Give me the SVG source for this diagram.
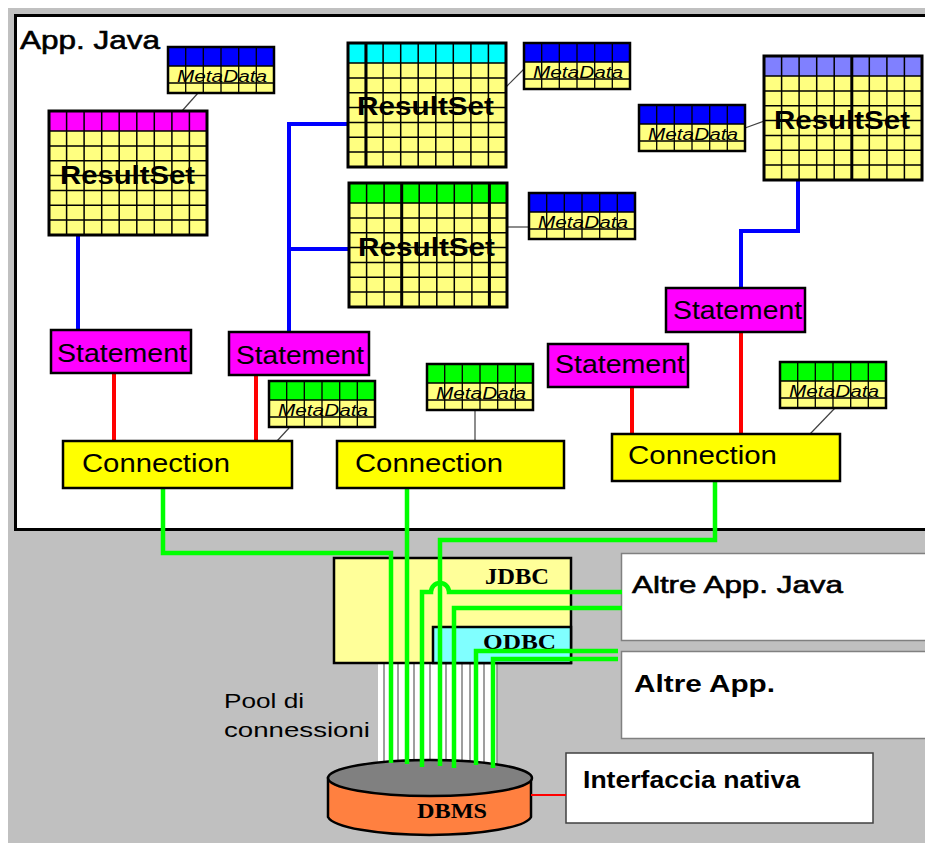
<svg xmlns="http://www.w3.org/2000/svg" xmlns:xlink="http://www.w3.org/1999/xlink" width="925" height="843" viewBox="0 0 925 843">
<style>
text{font-family:"Liberation Sans",Arial,sans-serif;fill:#000}
.rs{font-size:25px;font-weight:bold}
.st{font-size:25px}
.cn{font-size:26px}
.med{stroke:#000;stroke-width:0.6}
.ser{font-family:"Liberation Serif","Times New Roman",serif;font-weight:bold}
.stmt{fill:#ff00ff;stroke:#000;stroke-width:2.5}
.conn{fill:#ffff00;stroke:#000;stroke-width:2.5}
.blue{stroke:#0000ff;stroke-width:4;fill:none}
.red{stroke:#ff0000;stroke-width:4;fill:none}
.green{stroke:#00ff00;stroke-width:4.5;fill:none}
.thin{stroke:#404040;stroke-width:1.2;fill:none}
.thick{stroke:#000;stroke-width:3;fill:none}
</style>
<defs>
<g id="rsg">
<rect width="158" height="124" fill="#ffff80"/>
<rect width="158" height="20"/>
<path d="M17.6,0V124M35.1,0V124M52.7,0V124M70.2,0V124M87.8,0V124M105.3,0V124M122.9,0V124M140.4,0V124M0,20H158M0,34.9H158M0,49.7H158M0,64.6H158M0,79.4H158M0,94.3H158M0,109.1H158" stroke="#000" stroke-width="1.5" fill="none"/>
<rect width="158" height="124" fill="none" stroke="#000" stroke-width="3"/>
</g>
<g id="mdg">
<rect width="106" height="46" fill="#ffff80"/>
<rect width="106" height="19"/>
<path d="M17.7,0V46M35.3,0V46M53,0V46M70.7,0V46M88.3,0V46M0,19H106M0,36H106" stroke="#000" stroke-width="1.3" fill="none"/>
<rect width="106" height="46" fill="none" stroke="#000" stroke-width="2.5"/>
<text x="9" y="35" font-style="italic" font-size="16" textLength="90" lengthAdjust="spacingAndGlyphs">MetaData</text>
</g>
</defs>

<!-- background -->
<rect x="0" y="0" width="925" height="843" fill="#ffffff"/>
<rect x="8" y="8" width="917" height="835" fill="#c0c0c0"/>
<g id="appjava">
<rect x="15.5" y="15.5" width="930" height="514" fill="#ffffff" stroke="#000" stroke-width="3"/>
<text class="med" x="20" y="49" font-size="26" textLength="140" lengthAdjust="spacingAndGlyphs">App. Java</text>
</g>

<!-- bottom boxes -->
<g id="altrejava">
<rect x="621.5" y="553.5" width="320" height="87" fill="#ffffff" stroke="#808080" stroke-width="1.5"/>
<text class="med" x="632" y="593" font-size="24" textLength="211" lengthAdjust="spacingAndGlyphs">Altre App. Java</text>
</g>
<g id="altreapp">
<rect x="621.5" y="651.5" width="320" height="87" fill="#ffffff" stroke="#808080" stroke-width="1.5"/>
<text x="634" y="692" font-size="24" font-weight="bold" textLength="141" lengthAdjust="spacingAndGlyphs">Altre App.</text>
</g>
<g id="interfaccia">
<rect x="566" y="753" width="307" height="70" fill="#ffffff" stroke="#404040" stroke-width="1.5"/>
<text x="583" y="788" font-size="24" font-weight="bold" textLength="217" lengthAdjust="spacingAndGlyphs">Interfaccia nativa</text>
</g>

<!-- pool -->
<g id="pool">
<rect x="378" y="660" width="119" height="110" fill="#ffffff"/>
<path d="M384,660V770M398,660V770M414,660V770M430,660V770M446,660V770M462,660V770M470,660V770M484,660V770M497,660V770" stroke="#808080" stroke-width="1.5"/>
<text x="224" y="708" font-size="21" textLength="80" lengthAdjust="spacingAndGlyphs">Pool di</text>
<text x="224" y="737" font-size="21" textLength="146" lengthAdjust="spacingAndGlyphs">connessioni</text>
</g>
<g id="jdbc">
<rect x="334" y="558" width="237" height="105" fill="#ffff99" stroke="#000" stroke-width="2.5"/>
<text class="ser" x="485" y="584" font-size="23" textLength="64" lengthAdjust="spacingAndGlyphs">JDBC</text>
</g>
<g id="odbc">
<rect x="433" y="627" width="138" height="36" fill="#80ffff" stroke="#000" stroke-width="2.5"/>
<text class="ser" x="483" y="649" font-size="21" textLength="73" lengthAdjust="spacingAndGlyphs">ODBC</text>
</g>
<g id="dbms">
<path d="M328,778V817A102,20 0 0 0 531,817V778Z" fill="#ff8040" stroke="#000" stroke-width="2.5"/>
<ellipse cx="430" cy="778" rx="102" ry="18" fill="#808080" stroke="#000" stroke-width="2.5"/>
<text class="ser" x="417" y="818" font-size="21" textLength="70" lengthAdjust="spacingAndGlyphs">DBMS</text>
</g>

<!-- connectors -->
<g id="connectors">
<path class="blue" d="M78,235V330"/>
<path class="blue" d="M348,124H289V332M289,249H349"/>
<path class="blue" d="M798,180V231H741V288"/>
<path class="red" d="M114,373V441"/>
<path class="red" d="M256,375V441"/>
<path class="red" d="M632,387V434"/>
<path class="red" d="M741,332V434"/>
<path class="thin" d="M198,93L182,111"/>
<path class="thin" d="M506,87L524,69"/>
<path class="thin" d="M507,227H529"/>
<path class="thin" d="M745,128L764,121"/>
<path class="thin" d="M289,428L277,441"/>
<path class="thin" d="M475,410V441"/>
<path class="thin" d="M835,408L810,434"/>
<path class="green" d="M163,488V553H391V763"/>
<path class="green" d="M407,488V764"/>
<path class="green" d="M715,481V540H440V766"/>
<path class="green" d="M622,592H449A9,9 0 0 0 431,592H422V767"/>
<path class="green" d="M622,608H454V768"/>
<path class="green" d="M618,651H476V765"/>
<path class="green" d="M618,659H493V768"/>
<path d="M531,795H566" stroke="#ff0000" stroke-width="2"/>
</g>

<!-- ResultSets -->
<g id="rs1">
<use xlink:href="#rsg" href="#rsg" x="49" y="111" fill="#ff00ff"/>
<text class="rs" x="60" y="184" textLength="135" lengthAdjust="spacingAndGlyphs">ResultSet</text>
</g>
<g id="rs2">
<use xlink:href="#rsg" href="#rsg" x="348" y="43" fill="#00ffff"/>
<path class="thick" d="M366,43V167"/>
<text class="rs" x="357" y="115" textLength="137" lengthAdjust="spacingAndGlyphs">ResultSet</text>
</g>
<g id="rs3">
<use xlink:href="#rsg" href="#rsg" x="349" y="183" fill="#00ff00"/>
<path class="thick" d="M401.7,183V307M489.4,183V307"/>
<text class="rs" x="358" y="256" textLength="137" lengthAdjust="spacingAndGlyphs">ResultSet</text>
</g>
<g id="rs4">
<use xlink:href="#rsg" href="#rsg" x="764" y="56" fill="#8080ff"/>
<path class="thick" d="M851.8,56V180"/>
<text class="rs" x="774" y="129" textLength="136" lengthAdjust="spacingAndGlyphs">ResultSet</text>
</g>

<!-- MetaData -->
<g id="md1"><use xlink:href="#mdg" href="#mdg" x="168" y="47" fill="#0000ff"/></g>
<g id="md2"><use xlink:href="#mdg" href="#mdg" x="524" y="43" fill="#0000ff"/></g>
<g id="md3"><use xlink:href="#mdg" href="#mdg" x="529" y="193" fill="#0000ff"/></g>
<g id="md4"><use xlink:href="#mdg" href="#mdg" x="639" y="105" fill="#0000ff"/></g>
<g id="md5"><use xlink:href="#mdg" href="#mdg" x="269" y="381" fill="#00ff00"/></g>
<g id="md6"><use xlink:href="#mdg" href="#mdg" x="427" y="364" fill="#00ff00"/></g>
<g id="md7"><use xlink:href="#mdg" href="#mdg" x="780" y="362" fill="#00ff00"/></g>

<!-- Statements -->
<g id="st1"><rect class="stmt" x="51" y="330" width="140" height="43"/><text class="st" x="57" y="362" textLength="130" lengthAdjust="spacingAndGlyphs">Statement</text></g>
<g id="st2"><rect class="stmt" x="229" y="332" width="140" height="43"/><text class="st" x="236" y="364" textLength="128" lengthAdjust="spacingAndGlyphs">Statement</text></g>
<g id="st3"><rect class="stmt" x="666" y="288" width="139" height="44"/><text class="st" x="673" y="319" textLength="129" lengthAdjust="spacingAndGlyphs">Statement</text></g>
<g id="st4"><rect class="stmt" x="548" y="344" width="140" height="43"/><text class="st" x="555" y="373" textLength="130" lengthAdjust="spacingAndGlyphs">Statement</text></g>

<!-- Connections -->
<g id="c1"><rect class="conn" x="63" y="441" width="229" height="47"/><text class="cn" x="82" y="472" textLength="148" lengthAdjust="spacingAndGlyphs">Connection</text></g>
<g id="c2"><rect class="conn" x="337" y="441" width="227" height="47"/><text class="cn" x="355" y="472" textLength="148" lengthAdjust="spacingAndGlyphs">Connection</text></g>
<g id="c3"><rect class="conn" x="612" y="434" width="228" height="47"/><text class="cn" x="628" y="464" textLength="149" lengthAdjust="spacingAndGlyphs">Connection</text></g>
</svg>
